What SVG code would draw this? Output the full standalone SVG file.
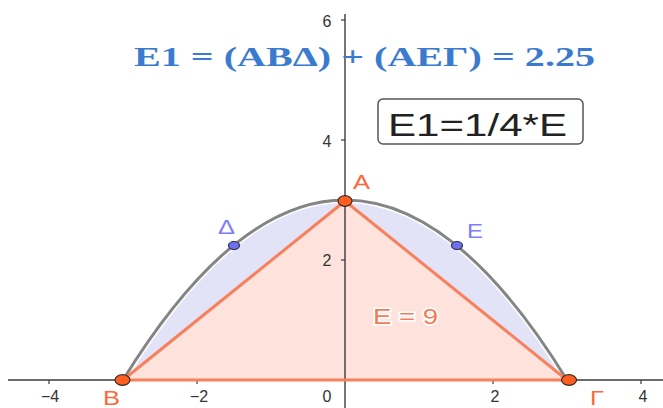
<svg xmlns="http://www.w3.org/2000/svg" width="663" height="408" viewBox="0 0 663 408">
<style>
.axis{stroke:#3a3a3a;stroke-width:1.4;fill:none}
.tick{stroke:#3a3a3a;stroke-width:1.2}
.tl{font-family:"Liberation Sans",Arial,sans-serif;font-size:16px;fill:#333;text-anchor:middle}
.pl{font-family:"Liberation Sans",Arial,sans-serif;font-size:20px}
.or{fill:#f96a3e}
.bl{fill:#7d7dff}
.edge{stroke:#f8805c;stroke-width:3;fill:none;stroke-linecap:round}
.opt{fill:#ff5e22;stroke:#3a2a22;stroke-width:1.2}
.bpt{fill:#6f70f0;stroke:#2a2a40;stroke-width:1.2}
</style>
<rect width="663" height="408" fill="#fff"/>
<g id="shading">
<path d="M123,380 L345,201 L567,380 Z" fill="#fde3dc"/>
<path d="M123,380 Q234,200 345,200 Z" fill="#e2e3f7"/>
<path d="M567,380 Q456,200 345,200 Z" fill="#e2e3f7"/>
</g>
<g id="axes">
<line class="axis" x1="8" y1="380" x2="663" y2="380"/>
<line class="axis" x1="345" y1="14" x2="345" y2="408"/>
<line class="tick" x1="49" y1="380" x2="49" y2="384"/>
<line class="tick" x1="197" y1="380" x2="197" y2="384"/>
<line class="tick" x1="493" y1="380" x2="493" y2="384"/>
<line class="tick" x1="641" y1="380" x2="641" y2="384"/>
<line class="tick" x1="341" y1="260" x2="345" y2="260"/>
<line class="tick" x1="341" y1="140" x2="345" y2="140"/>
<line class="tick" x1="341" y1="20" x2="345" y2="20"/>
<text class="tl" x="50" y="402">−4</text>
<text class="tl" x="199" y="402">−2</text>
<text class="tl" x="327" y="402">0</text>
<text class="tl" x="495" y="402">2</text>
<text class="tl" x="643" y="402">4</text>
<text class="tl" x="327" y="266">2</text>
<text class="tl" x="327" y="147">4</text>
<text class="tl" x="327" y="27">6</text>
</g>
<g id="parabola">
<path d="M123,380 Q345,20 567,380" fill="none" stroke="#fff" stroke-width="6"/>
<path d="M123,380 Q345,20 567,380" fill="none" stroke="#858585" stroke-width="3"/>
</g>
<g id="triangle">
<path class="edge" d="M123,380 L345,201 L567,380 Z"/>
</g>
<g id="A"><ellipse class="opt" cx="345" cy="201" rx="7" ry="5.3"/><text class="pl or" x="353" y="189" textLength="17" lengthAdjust="spacingAndGlyphs">A</text></g>
<g id="B"><ellipse class="opt" cx="122.5" cy="380" rx="7.5" ry="5.3"/><text class="pl or" x="103" y="405" textLength="17" lengthAdjust="spacingAndGlyphs">B</text></g>
<g id="G"><ellipse class="opt" cx="569" cy="380" rx="7.5" ry="5.3"/><text class="pl or" x="590" y="405" textLength="14" lengthAdjust="spacingAndGlyphs">Γ</text></g>
<g id="D"><ellipse class="bpt" cx="234" cy="245.5" rx="5.5" ry="4"/><text class="pl bl" x="218" y="234" textLength="17" lengthAdjust="spacingAndGlyphs">Δ</text></g>
<g id="E"><ellipse class="bpt" cx="457" cy="245.5" rx="5.5" ry="4"/><text class="pl bl" x="467" y="238" textLength="16" lengthAdjust="spacingAndGlyphs">E</text></g>
<g id="areaLabel"><text x="373" y="324" font-family="'Liberation Sans',Arial,sans-serif" font-size="22" fill="#f47a58" stroke="#fff" stroke-width="3" paint-order="stroke" textLength="65" lengthAdjust="spacingAndGlyphs">E = 9</text></g>
<g id="title"><text x="134" y="66" font-family="'Liberation Serif','Times New Roman',serif" font-weight="bold" font-size="28" fill="#3b7bcf" textLength="461" lengthAdjust="spacingAndGlyphs">E1 = (ABΔ) + (AEΓ) = 2.25</text></g>
<g id="box">
<rect x="378" y="99" width="205" height="45" rx="5" fill="#fff" stroke="#555" stroke-width="1.5"/>
<text x="388" y="136" font-family="'Liberation Sans',Arial,sans-serif" font-size="32" fill="#222" textLength="179" lengthAdjust="spacingAndGlyphs">E1=1/4*E</text>
</g>
</svg>
